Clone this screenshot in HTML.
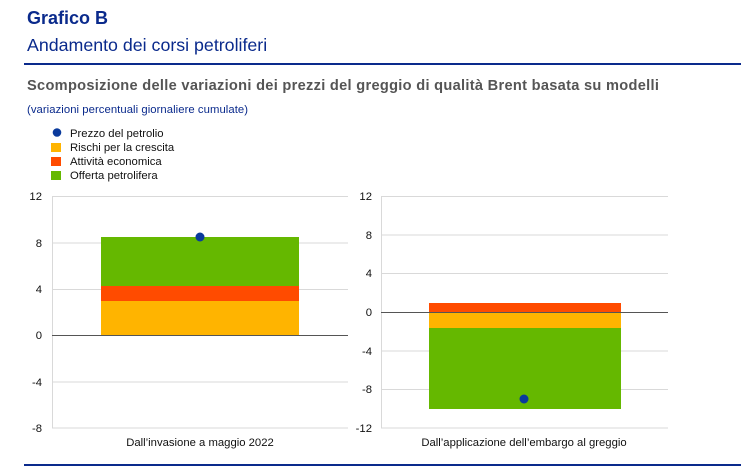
<!DOCTYPE html>
<html><head><meta charset="utf-8"><style>
body{margin:0;background:#fff;width:741px;height:467px;overflow:hidden;font-family:"Liberation Sans",sans-serif}
</style></head><body>
<svg width="741" height="467" xmlns="http://www.w3.org/2000/svg" font-family="Liberation Sans, sans-serif">
<text x="27" y="24" font-size="18" font-weight="bold" fill="#0a2a8c">Grafico B</text>
<text x="27" y="51" font-size="17.8" fill="#0a2a8c">Andamento dei corsi petroliferi</text>
<rect x="24" y="63" width="717" height="2" fill="#0a2a8c"/>
<text x="27" y="90" font-size="14.6" font-weight="bold" fill="#555" letter-spacing="0.3">Scomposizione delle variazioni dei prezzi del greggio di qualità Brent basata su modelli</text>
<text x="27" y="113" font-size="11.3" fill="#0a2a8c" textLength="221">(variazioni percentuali giornaliere cumulate)</text>
<circle cx="57" cy="132.5" r="4.3" fill="#0a3a9c"/>
<text x="70" y="137" font-size="11.3" fill="#111">Prezzo del petrolio</text>
<rect x="51" y="143" width="10" height="9" fill="#ffb400"/>
<text x="70" y="151" font-size="11.3" fill="#111">Rischi per la crescita</text>
<rect x="51" y="157" width="10" height="9" fill="#ff4b00"/>
<text x="70" y="165" font-size="11.3" fill="#111">Attività economica</text>
<rect x="51" y="171" width="10" height="9" fill="#65b800"/>
<text x="70" y="179" font-size="11.3" fill="#111">Offerta petrolifera</text>
<g stroke="#d9d9d9" stroke-width="1">
<line x1="52" x2="348" y1="196.5" y2="196.5"/><line x1="52" x2="348" y1="243" y2="243"/><line x1="52" x2="348" y1="289.5" y2="289.5"/><line x1="52" x2="348" y1="382" y2="382"/><line x1="52" x2="348" y1="428" y2="428"/>
<line x1="52.5" x2="52.5" y1="196" y2="428"/>
<line x1="381" x2="668" y1="196.5" y2="196.5"/><line x1="381" x2="668" y1="235" y2="235"/><line x1="381" x2="668" y1="273.5" y2="273.5"/><line x1="381" x2="668" y1="351" y2="351"/><line x1="381" x2="668" y1="389.5" y2="389.5"/><line x1="381" x2="668" y1="428" y2="428"/>
<line x1="381.5" x2="381.5" y1="196" y2="428"/>
</g>
<g font-size="11.3" fill="#111" text-anchor="end">
<text x="42" y="200">12</text><text x="42" y="247">8</text><text x="42" y="293">4</text><text x="42" y="339">0</text><text x="42" y="386">-4</text><text x="42" y="432">-8</text>
<text x="372" y="200">12</text><text x="372" y="239">8</text><text x="372" y="277">4</text><text x="372" y="316">0</text><text x="372" y="355">-4</text><text x="372" y="393">-8</text><text x="372" y="432">-12</text>
</g>
<rect x="101" y="301" width="198" height="34.5" fill="#ffb400"/>
<rect x="101" y="286" width="198" height="15" fill="#ff4b00"/>
<rect x="101" y="237" width="198" height="49" fill="#65b800"/>
<line x1="52" x2="348" y1="335.5" y2="335.5" stroke="#555" stroke-width="1"/>
<circle cx="200" cy="237" r="4.5" fill="#0a3a9c"/>
<rect x="429" y="303" width="192" height="9" fill="#ff4b00"/>
<rect x="429" y="312" width="192" height="16" fill="#ffb400"/>
<rect x="429" y="328" width="192" height="81" fill="#65b800"/>
<line x1="381" x2="668" y1="312.5" y2="312.5" stroke="#555" stroke-width="1"/>
<circle cx="524" cy="399" r="4.5" fill="#0a3a9c"/>
<text x="200" y="446" font-size="11.3" fill="#111" text-anchor="middle">Dall’invasione a maggio 2022</text>
<text x="524" y="446" font-size="11.3" fill="#111" text-anchor="middle">Dall’applicazione dell’embargo al greggio</text>
<rect x="24" y="464" width="717" height="2" fill="#0a2a8c"/>
</svg>
</body></html>
